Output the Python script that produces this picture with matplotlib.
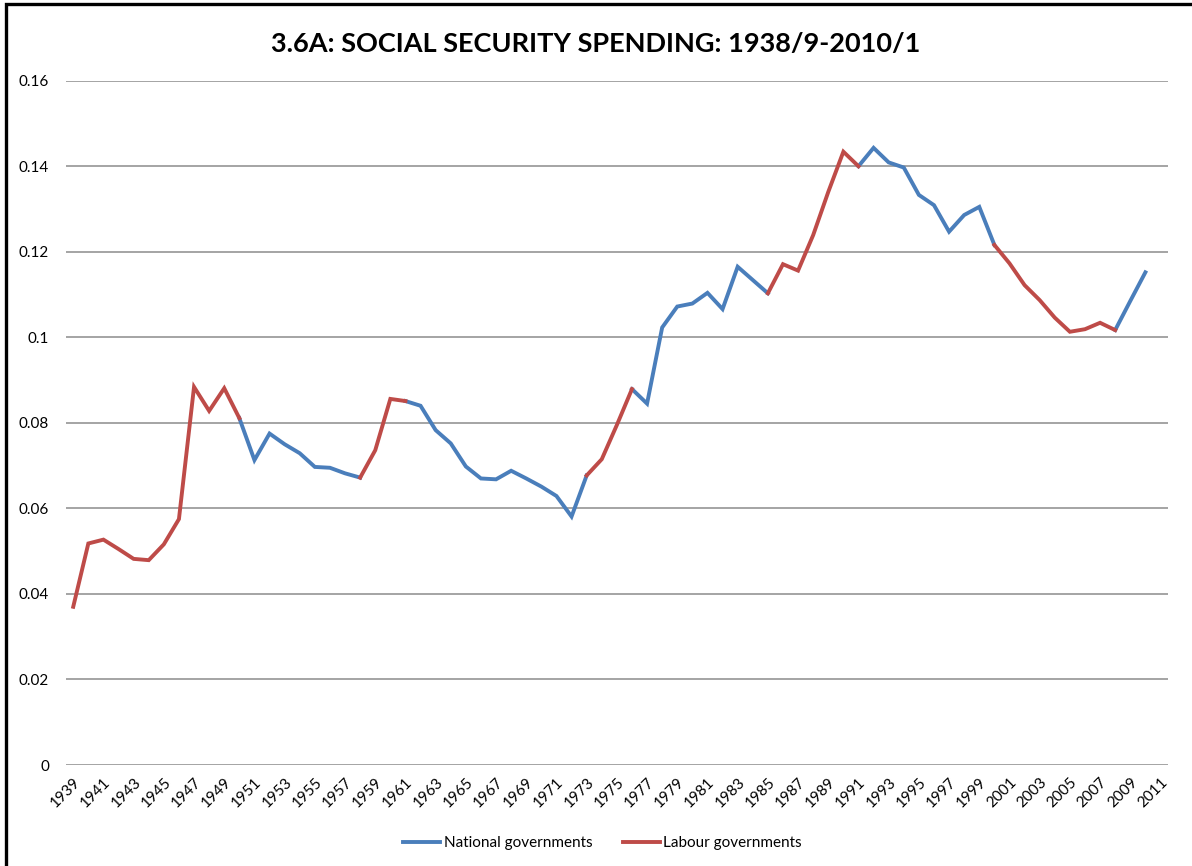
import matplotlib
matplotlib.use('Agg')
import matplotlib.pyplot as plt
import numpy as np
from matplotlib.patches import Rectangle

# social security spending share, one value per year (1939..2010)
years = list(range(1939, 2011))
spending = [
    0.0370, 0.0518, 0.0527, 0.0505, 0.0482, 0.0479, 0.0516, 0.0575, 0.0884, 0.0828,
    0.0881, 0.0811, 0.0713, 0.0775, 0.0750, 0.0729, 0.0697, 0.0695, 0.0682, 0.0672,
    0.0736, 0.0856, 0.0851, 0.0840, 0.0783, 0.0752, 0.0698, 0.0670, 0.0668, 0.0688,
    0.0670, 0.0651, 0.0629, 0.0581, 0.0677, 0.0715, 0.0795, 0.0879, 0.0845, 0.1023,
    0.1072, 0.1079, 0.1104, 0.1066, 0.1165, 0.1134, 0.1103, 0.1171, 0.1156, 0.1239,
    0.1340, 0.1434, 0.1400, 0.1443, 0.1409, 0.1397, 0.1333, 0.1309, 0.1247, 0.1286,
    0.1305, 0.1216, 0.1173, 0.1122, 0.1087, 0.1046, 0.1013, 0.1019, 0.1034, 0.1017,
    0.1085, 0.1152,
]

# category axis runs one year past the data
categories = [str(y) for y in range(1939, 2012)]

# terms in office (first and last year, shared at the changeover)
national_terms = [(1950, 1958), (1961, 1973), (1976, 1985), (1991, 2000), (2008, 2010)]
labour_terms = [(1939, 1950), (1958, 1961), (1973, 1976), (1985, 1991), (2000, 2008)]

BLUE = '#4A7EBB'
RED = '#BE4B48'


def term_series(terms):
    '''
        keep the values inside the given terms, nan elsewhere
    '''
    out = np.full(len(spending), np.nan)
    for start, end in terms:
        for i, y in enumerate(years):
            if start <= y <= end:
                out[i] = spending[i]
    return out


def main():
    plt.rcParams['font.family'] = ['Lato', 'DejaVu Sans']

    fig = plt.figure(figsize=(11.92, 8.66), dpi=100)
    ax = fig.add_axes([0.0551, 0.1166, 0.9248, 0.7902])

    x = np.arange(len(spending))
    national = term_series(national_terms)
    labour = term_series(labour_terms)

    ax.plot(x, national, color=BLUE, lw=2.8, label='National governments',
            solid_joinstyle='miter', zorder=3)
    ax.plot(x, labour, color=RED, lw=2.8, label='Labour governments',
            solid_joinstyle='miter', zorder=3)

    # axes and gridlines
    ax.set_xlim(-0.5, len(categories) - 0.5)
    ax.set_ylim(0, 0.16)
    ax.set_yticks(np.arange(0, 0.161, 0.02))
    ax.set_yticklabels(['0', '0.02', '0.04', '0.06', '0.08', '0.1', '0.12', '0.14', '0.16'])
    ax.grid(axis='y', color='#8C8C8C', lw=1.1)
    ax.set_axisbelow(True)
    for side in ['left', 'right', 'top', 'bottom']:
        ax.spines[side].set_visible(False)

    ticks = np.arange(0, len(categories), 2)
    ax.set_xticks(ticks)
    ax.set_xticklabels([categories[i] for i in ticks], rotation=45,
                       ha='right', va='top', rotation_mode='anchor')
    ax.tick_params(axis='x', length=0, pad=7, labelsize=11)
    ax.tick_params(axis='y', length=0, pad=12, labelsize=11)

    # title and legend
    fig.text(0.5, 0.949, '3.6A: SOCIAL SECURITY SPENDING: 1938/9-2010/1',
             ha='center', va='center', fontsize=19.5, fontweight='bold')
    fig.legend(loc='center', bbox_to_anchor=(0.5055, 0.0266), ncol=2, frameon=False,
               fontsize=11, handlelength=2.4, handletextpad=0.25, columnspacing=2.0)

    # chart border
    fig.patches.append(Rectangle((6 / 1192, -0.05), 1.1, (866 - 4) / 866 + 0.05,
                                 transform=fig.transFigure, fill=False,
                                 edgecolor='black', lw=2.4, zorder=10))

    fig.savefig('out.png', dpi=100)


if __name__ == '__main__':
    main()
